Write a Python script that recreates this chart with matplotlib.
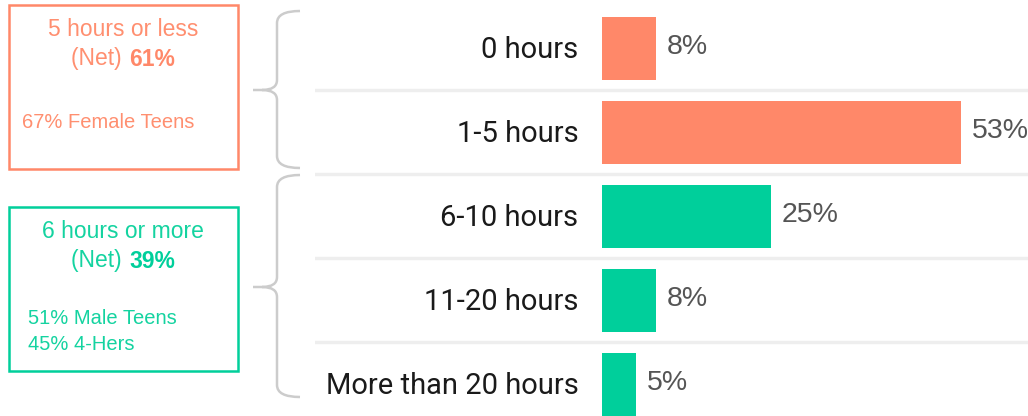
#!/usr/bin/python3

# Hours per week bar chart with two net boxes on the left

import matplotlib.pyplot as plt
from matplotlib.path import Path
from matplotlib.patches import PathPatch, Rectangle

categories = ["0 hours", "1-5 hours", "6-10 hours", "11-20 hours", "More than 20 hours"]
values = [8, 53, 25, 8, 5]
groups = [0, 0, 1, 1, 1]

net_titles = ["5 hours or less", "6 hours or more"]
net_values = [61, 39]
net_notes = [["67% Female Teens"], ["51% Male Teens", "45% 4-Hers"]]

orange = "#FF8869"
green = "#00CF9B"
group_colors = [orange, green]
text_colors = ["#FF8F70", "#14D3A0"]

plt.rcParams['font.family'] = ['Liberation Sans', 'DejaVu Sans']

fig = plt.figure(figsize=(10.28, 4.16), dpi=100)

# bar axes, spans from the separator start to the right edge
px = 6.77  # pixels per percent
ax = fig.add_axes([315 / 1028, 0, 1 - 315 / 1028, 1])
ax.set_xlim(-(602 - 315) / px, (1028 - 602) / px)
ax.set_ylim(4.375, -0.577)
ax.axis('off')

for i in range(len(categories)):
    ax.barh(i, values[i], height=0.75, color=group_colors[groups[i]], zorder=2)
    ax.text(-3.5, i + 0.02, categories[i], ha='right', va='center', fontsize=21,
            color='#1a1a1a', family=['Roboto', 'DejaVu Sans'])
    ax.text(values[i] + 1.6, i - 0.02, "%d%%" % values[i], ha='left', va='center',
            fontsize=20.5, color='#555555')
for i in range(len(categories) - 1):
    ax.axhline(i + 0.5, color='#EEEEEE', lw=2.5, zorder=1)

# overlay in figure pixels for boxes and braces
ov = fig.add_axes([0, 0, 1, 1])
ov.set_xlim(0, 1028)
ov.set_ylim(416, 0)
ov.axis('off')

box_tops = [5, 207]
box_h = 164
for g in range(2):
    c = group_colors[g]
    tc = text_colors[g]
    y0 = box_tops[g]
    ov.add_patch(Rectangle((9, y0), 229, box_h, fill=False, edgecolor=c, lw=1.8))
    ov.text(123, y0 + 24, net_titles[g], ha='center', va='center', fontsize=16.5, color=tc)
    ov.text(128, y0 + 54, "(Net) ", ha='right', va='center', fontsize=16.5, color=tc)
    ov.text(129, y0 + 54, "%d%%" % net_values[g], ha='left', va='center', fontsize=16.5,
            color=c, fontweight='bold')
    for k, note in enumerate(net_notes[g]):
        ov.text(22 + 6 * g, y0 + 117 - 5 * g + 26 * k, note, ha='left', va='center',
                fontsize=14.5, color=tc)

# curly braces
def brace(ytop, ymid, ybot):
    verts = [(300, ytop), (277, ytop), (277, ytop + 12),
             (277, ymid - 10), (277, ymid), (262, ymid),
             (253, ymid), (262, ymid), (277, ymid), (277, ymid + 10),
             (277, ybot - 12), (277, ybot), (300, ybot)]
    codes = [Path.MOVETO, Path.CURVE3, Path.CURVE3,
             Path.LINETO, Path.CURVE3, Path.CURVE3,
             Path.LINETO, Path.MOVETO, Path.CURVE3, Path.CURVE3,
             Path.LINETO, Path.CURVE3, Path.CURVE3]
    ov.add_patch(PathPatch(Path(verts, codes), fill=False, edgecolor='#CCCCCC', lw=1.8))

brace(11, 90, 168)
brace(175, 287, 397)

plt.savefig('out.png', dpi=100)
